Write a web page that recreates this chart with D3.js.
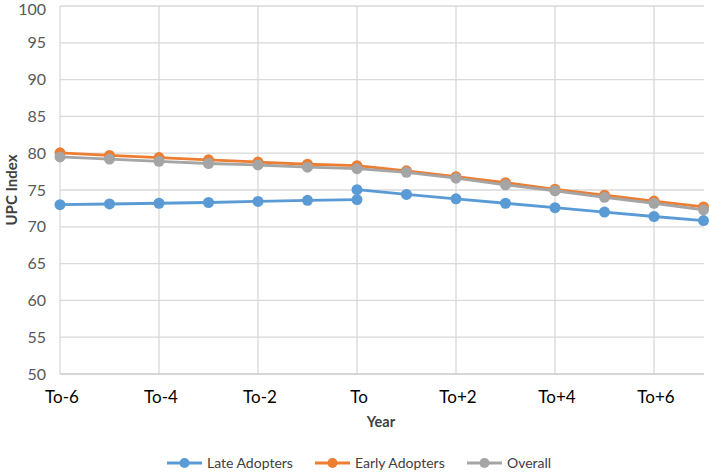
<!DOCTYPE html>
<html><head><meta charset="utf-8">
<script src="https://cdn.jsdelivr.net/npm/d3@7"></script>
<style>body{margin:0;background:#fff;font-family:Lato,"Open Sans",sans-serif}</style>
</head><body><svg id="c" width="709" height="473"></svg>
<script>
const categories = ["To-6","To-5","To-4","To-3","To-2","To-1","To","To+1","To+2","To+3","To+4","To+5","To+6","To+7"];
const tickLabels = ["To-6","To-4","To-2","To","To+2","To+4","To+6"];
const lateBefore = [73.0,73.1,73.2,73.3,73.45,73.6,73.7];          // To-6 .. To
const lateAfter  = [75.05,74.4,73.8,73.2,72.6,72.0,71.4,70.85];    // To .. To+7
const early   = [80.05,79.7,79.4,79.1,78.8,78.5,78.3,77.6,76.8,76.0,75.1,74.3,73.5,72.7];
const overall = [79.5,79.2,78.9,78.6,78.4,78.1,77.9,77.4,76.6,75.7,74.9,74.0,73.2,72.3];
const yTicks = [50,55,60,65,70,75,80,85,90,95,100];
const seriesNames = ["Late Adopters","Early Adopters","Overall"];
const colors = ["#5B9BD5","#ED7D31","#A5A5A5"];

const svg = d3.select("#c");
const x = d3.scalePoint().domain(categories).range([60,703.5]);
const y = d3.scaleLinear().domain([50,100]).range([374,6]);

// horizontal gridlines
svg.append("g").selectAll("line").data(yTicks.filter(d=>d>50)).join("line")
  .attr("x1",60).attr("x2",704).attr("y1",d=>y(d)).attr("y2",d=>y(d))
  .attr("stroke","#d9d9d9").attr("stroke-width",1.3);
// vertical gridlines
svg.append("g").selectAll("line").data(tickLabels).join("line")
  .attr("x1",d=>x(d)).attr("x2",d=>x(d)).attr("y1",y(100)).attr("y2",y(50))
  .attr("stroke","#d9d9d9").attr("stroke-width",1.3);
// bottom axis line
svg.append("line").attr("x1",60).attr("x2",704).attr("y1",y(50)).attr("y2",y(50))
  .attr("stroke","#c8c8c8").attr("stroke-width",1.5);

// y tick labels
svg.append("g").selectAll("text").data(yTicks).join("text")
  .attr("x",46).attr("y",d=>Math.max(y(d),9)).attr("dy","0.35em").attr("text-anchor","end")
  .attr("font-size",16).attr("fill","#595959").text(d=>d);
// x tick labels
svg.append("g").selectAll("text").data(tickLabels).join("text")
  .attr("x",d=>x(d)+2).attr("y",397).attr("dy","0.35em").attr("text-anchor","middle")
  .attr("font-size",17).attr("fill","#000").text(d=>d);

// axis titles
svg.append("text").attr("transform","translate(12,190) rotate(-90)").attr("text-anchor","middle")
  .attr("dy","0.35em").attr("font-size",15).attr("font-weight","bold").attr("fill","#404040").text("UPC Index");
svg.append("text").attr("x",381).attr("y",422).attr("dy","0.35em").attr("text-anchor","middle")
  .attr("font-size",14.5).attr("font-weight","bold").attr("fill","#404040").text("Year");

const line = d3.line().x(d=>x(d.c)).y(d=>y(d.v));
function drawSeries(vals, cats, color){
  const pts = vals.map((v,i)=>({c:cats[i],v}));
  svg.append("path").datum(pts).attr("d",line).attr("fill","none")
    .attr("stroke",color).attr("stroke-width",2.8).attr("stroke-linejoin","round");
  svg.append("g").selectAll("circle").data(pts).join("circle")
    .attr("cx",d=>x(d.c)).attr("cy",d=>y(d.v)).attr("r",5.5).attr("fill",color);
}
drawSeries(lateBefore, categories.slice(0,7), colors[0]);
drawSeries(lateAfter, categories.slice(6), colors[0]);
drawSeries(early, categories, colors[1]);
drawSeries(overall, categories, colors[2]);

// legend
const legX = [167,315,467];
const lg = svg.append("g").selectAll("g").data(seriesNames).join("g")
  .attr("transform",(d,i)=>`translate(${legX[i]},463)`);
lg.append("line").attr("x1",0).attr("x2",35).attr("stroke",(d,i)=>colors[i]).attr("stroke-width",2.8);
lg.append("circle").attr("cx",17.5).attr("r",5).attr("fill",(d,i)=>colors[i]);
lg.append("text").attr("x",40).attr("dy","0.35em").attr("font-size",14).attr("fill","#404040").text(d=>d);
</script></body></html>
